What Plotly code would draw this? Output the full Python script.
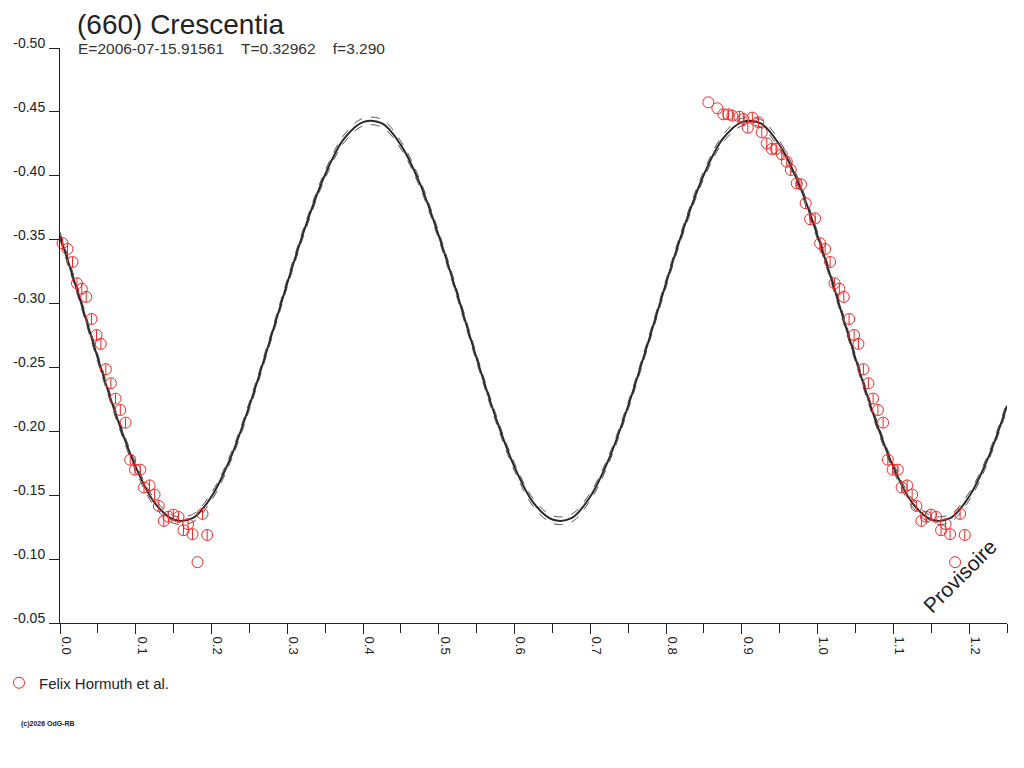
import plotly.graph_objects as go

# ---- data ----
title_text = "(660) Crescentia"
subtitle_text = "E=2006-07-15.91561    T=0.32962    f=3.290"
observer = "Felix Hormuth et al."

# observed points: phase (as observed, 0.85..1.2) and relative magnitude
obs_phase = [0.8558, 0.8677, 0.8756, 0.8822, 0.8875, 0.8968, 0.9020, 0.9078, 0.9139, 0.9218,
             0.9263, 0.9329, 0.9395, 0.9452, 0.9527, 0.9593, 0.9646, 0.9725, 0.9782, 0.9842,
             0.9901, 0.9967, 1.0033, 1.0099, 1.0165, 1.0224, 1.0287, 1.0346, 1.0416, 1.0482,
             1.0539, 1.0605, 1.0671, 1.0733, 1.0796, 1.0865, 1.0927, 1.0990, 1.1059, 1.1109,
             1.1182, 1.1248, 1.1304, 1.1370, 1.1430, 1.1496, 1.1564, 1.1630, 1.1690, 1.1749,
             1.1815, 1.1881, 1.1943]
obs_mag = [-0.4575, -0.4528, -0.4481, -0.4481, -0.4470, -0.4462, -0.4444, -0.4376, -0.4455, -0.4419,
           -0.4340, -0.4254, -0.4210, -0.4210, -0.4168, -0.4110, -0.4045, -0.3941, -0.3933, -0.3785,
           -0.3660, -0.3667, -0.3472, -0.3427, -0.3325, -0.3159, -0.3116, -0.3052, -0.2879, -0.2754,
           -0.2684, -0.2486, -0.2376, -0.2256, -0.2167, -0.2068, -0.1778, -0.1700, -0.1700, -0.1561,
           -0.1577, -0.1505, -0.1416, -0.1299, -0.1332, -0.1348, -0.1330, -0.1226, -0.1274, -0.1195,
           -0.0976, -0.1354, -0.1189]
obs_err = [0.0, 0.0, 0.004, 0.004, 0.004, 0.004, 0.004, 0.004, 0.004, 0.004,
           0.004, 0.004, 0.004, 0.004, 0.004, 0.004, 0.004, 0.004, 0.004, 0.004,
           0.004, 0.004, 0.004, 0.004, 0.004, 0.004, 0.004, 0.004, 0.004, 0.004,
           0.004, 0.004, 0.004, 0.004, 0.004, 0.004, 0.004, 0.004, 0.004, 0.004,
           0.004, 0.004, 0.004, 0.004, 0.004, 0.004, 0.004, 0.004, 0.004, 0.004,
           0.0, 0.004, 0.004]

# fitted light curve sampled every 0.025 in phase (0 .. 1.25)
curve_phase = [i * 0.025 for i in range(51)]
curve_mag = [-0.353, -0.306, -0.257, -0.211, -0.172, -0.144, -0.131, -0.132, -0.149, -0.179,
             -0.220, -0.267, -0.316, -0.362, -0.401, -0.429, -0.442, -0.441, -0.424, -0.394,
             -0.353, -0.306, -0.257, -0.211, -0.172, -0.144, -0.131, -0.132, -0.149, -0.179,
             -0.220, -0.267, -0.316, -0.362, -0.401, -0.429, -0.442, -0.441, -0.424, -0.394,
             -0.353, -0.306, -0.257, -0.211, -0.172, -0.144, -0.131, -0.132, -0.149, -0.179,
             -0.220]
curve_unc = 0.003  # half width of the dashed uncertainty envelope

y_ticks = [-0.50, -0.45, -0.40, -0.35, -0.30, -0.25, -0.20, -0.15, -0.10, -0.05]

assert len(obs_phase) == len(obs_mag) == len(obs_err)
assert len(curve_phase) == len(curve_mag)

X_MAX = 1.25

# repeat points over the displayed phase window
px, py, pe = [], [], []
for p, m, e in zip(obs_phase, obs_mag, obs_err):
    for k in (-1, 0, 1):
        q = p + k
        if 0 <= q <= X_MAX:
            px.append(q)
            py.append(m)
            pe.append(e)

INK = "#222222"
RED = "#f02828"
FONT = "Liberation Sans, Arial, sans-serif"

OFF = 8  # page body margin of the browser
W, H = 1024, 768
L, T = 60 - OFF, 48 - OFF
R = W - (1007 - OFF)
B = H - (623 - OFF)
PW, PH = W - L - R, H - T - B


def xp(pix):  # screen pixel -> paper x
    return (pix - OFF - L) / PW


def yp(pix):  # screen pixel -> paper y
    return (H - B - (pix - OFF)) / PH


fig = go.Figure()

for sgn in (-1, 1):
    fig.add_trace(go.Scatter(
        x=curve_phase, y=[v + sgn * curve_unc for v in curve_mag],
        mode="lines", line=dict(color="#555555", width=1, dash="dash", shape="spline"),
        showlegend=False, hoverinfo="skip"))

fig.add_trace(go.Scatter(
    x=curve_phase, y=curve_mag, mode="lines",
    line=dict(color="#2a2a2a", width=2, shape="spline"),
    showlegend=False, hoverinfo="skip"))

fig.add_trace(go.Scatter(
    x=px, y=py, mode="markers", name=observer,
    marker=dict(symbol="circle-open", size=11, color=RED, line=dict(width=1, color=RED)),
    error_y=dict(type="data", array=pe, visible=True, color=RED, thickness=1, width=0),
    cliponaxis=False))

fig.update_layout(
    width=W, height=H,
    margin=dict(l=L, r=R, t=T, b=B, autoexpand=False),
    paper_bgcolor="white", plot_bgcolor="white",
    font=dict(family=FONT, color=INK, size=13),
    showlegend=True,
    legend=dict(x=xp(-1), y=yp(683), xanchor="left", yanchor="middle",
                font=dict(size=15, color=INK), bgcolor="rgba(0,0,0,0)",
                itemwidth=30),
)

fig.update_xaxes(
    range=[0, X_MAX], showgrid=False, zeroline=False, automargin=False,
    showline=True, linecolor=INK, linewidth=1,
    ticks="outside", ticklen=10, tickcolor=INK, tickwidth=1,
    dtick=0.1, tick0=0, tickformat=".1f", tickangle=90,
    tickfont=dict(size=13, color=INK), ticklabelshift=6,
    minor=dict(dtick=0.05, tick0=0, ticks="outside", ticklen=9, tickcolor=INK, tickwidth=1),
)
fig.update_yaxes(
    range=[-0.05, -0.50], showgrid=False, zeroline=False, automargin=False,
    showline=True, linecolor=INK, linewidth=1,
    ticks="outside", ticklen=10, tickcolor=INK, tickwidth=1,
    tickvals=y_ticks, ticktext=["%.2f" % v for v in y_ticks],
    tickfont=dict(size=14, color=INK), ticklabelshift=5, ticklabelstandoff=1,
)

fig.add_annotation(text=title_text, xref="paper", yref="paper",
                   x=xp(76), y=yp(OFF), xanchor="left", yanchor="top", borderpad=0,
                   showarrow=False, font=dict(size=28, color=INK, family=FONT))
fig.add_annotation(text=subtitle_text, xref="paper", yref="paper",
                   x=xp(76), y=yp(48), xanchor="left", yanchor="middle",
                   showarrow=False, font=dict(size=15.5, color="#333333", family=FONT))
fig.add_annotation(text="Provisoire", xref="paper", yref="paper",
                   x=xp(959), y=yp(576), xanchor="center", yanchor="middle",
                   textangle=-45, showarrow=False, font=dict(size=21, color=INK, family=FONT))
fig.add_annotation(text="<b>(c)2026 OdG-RB</b>", xref="paper", yref="paper",
                   x=xp(19), y=yp(724), xanchor="left", yanchor="middle",
                   showarrow=False, font=dict(size=7, color=INK, family=FONT))

fig.write_html("out.html")
